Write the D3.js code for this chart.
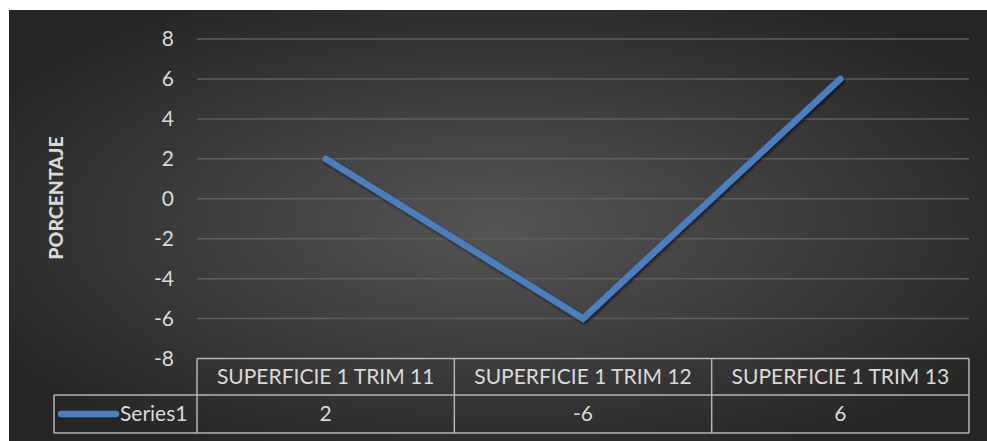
<!DOCTYPE html>
<html><head><meta charset="utf-8">
<script src="https://cdn.jsdelivr.net/npm/d3@7"></script>
<style>body{margin:0;background:#fff}svg{display:block}</style>
</head><body><svg id="c" width="987" height="441"></svg>
<script>
const categories = ["SUPERFICIE 1 TRIM 11", "SUPERFICIE 1 TRIM 12", "SUPERFICIE 1 TRIM 13"];
const seriesName = "Series1";
const values = [2, -6, 6];
const yTicks = [-8, -6, -4, -2, 0, 2, 4, 6, 8];
const yTitle = "PORCENTAJE";

const svg = d3.select("#c");
const W = 987, H = 441;
const FONT = "Lato, 'Open Sans', sans-serif";
const defs = svg.append("defs");
const rg = defs.append("radialGradient").attr("id","bg")
  .attr("cx","50%").attr("cy","50%").attr("r","60%");
rg.append("stop").attr("offset","0%").attr("stop-color","#555555");
rg.append("stop").attr("offset","100%").attr("stop-color","#262626");
const f = defs.append("filter").attr("id","sh").attr("x","-10%").attr("y","-10%").attr("width","120%").attr("height","120%");
f.append("feDropShadow").attr("dx",1.5).attr("dy",2).attr("stdDeviation",1.5).attr("flood-color","#000").attr("flood-opacity",0.6);

svg.append("rect").attr("x",9).attr("y",10).attr("width",W-9).attr("height",H-10).attr("fill","url(#bg)");

const plotL = 197, plotR = 969, plotT = 39, plotB = 358.5;
const x = d3.scaleBand().domain(categories).range([plotL, plotR]).padding(0);
const y = d3.scaleLinear().domain([d3.min(yTicks), d3.max(yTicks)]).range([plotB, plotT]);

// gridlines
svg.append("g").selectAll("line").data(yTicks.filter(t => t !== d3.min(yTicks))).join("line")
  .attr("x1", plotL).attr("x2", plotR)
  .attr("y1", d => y(d)).attr("y2", d => y(d))
  .attr("stroke", "#5e5e5e").attr("stroke-width", 1.5);

// y axis labels
const yAxis = d3.axisLeft(y).tickValues(yTicks).tickSize(0).tickPadding(0).tickFormat(d => String(d));
const ya = svg.append("g").attr("transform", `translate(174,0)`).call(yAxis);
ya.select(".domain").remove();
ya.selectAll("text").attr("fill","#d9d9d9").style("font-family",FONT).style("font-size","21px");

// y title
svg.append("text").attr("transform","translate(63,198) rotate(-90)")
  .attr("text-anchor","middle").attr("fill","#d9d9d9")
  .style("font-family",FONT).style("font-size","19.5px").style("font-weight","900")
  .text(yTitle);

// line
const line = d3.line().x((d,i) => x(categories[i]) + x.bandwidth()/2).y(d => y(d));
svg.append("path").datum(values).attr("d", line)
  .attr("fill","none").attr("stroke","#4a7fc0").attr("stroke-width",6.5)
  .attr("stroke-linecap","round").attr("stroke-linejoin","miter").attr("filter","url(#sh)");

// data table
const r1T = plotB, r1B = 395, r2B = 433, legL = 54;
const tb = svg.append("g").attr("fill","none").attr("stroke","#b4b4b4").attr("stroke-width",1.5);
tb.append("line").attr("x1",plotL).attr("x2",plotR).attr("y1",r1T).attr("y2",r1T);
tb.append("line").attr("x1",legL).attr("x2",plotR).attr("y1",r1B).attr("y2",r1B);
tb.append("line").attr("x1",legL).attr("x2",plotR).attr("y1",r2B).attr("y2",r2B);
tb.append("line").attr("x1",legL).attr("x2",legL).attr("y1",r1B).attr("y2",r2B);
const edges = categories.map(c => x(c)).concat([plotR]);
tb.selectAll(".v").data(edges).join("line").attr("class","v")
  .attr("x1",d=>d).attr("x2",d=>d).attr("y1",r1T).attr("y2",r2B);

svg.append("g").selectAll("text").data(categories).join("text")
  .attr("x", d => x(d) + x.bandwidth()/2).attr("y", (r1T+r1B)/2).attr("dy","0.35em")
  .attr("text-anchor","middle").attr("fill","#d9d9d9")
  .style("font-family",FONT).style("font-size","21px").text(d => d);
svg.append("g").selectAll("text").data(values).join("text")
  .attr("x", (d,i) => x(categories[i]) + x.bandwidth()/2).attr("y", (r1B+r2B)/2).attr("dy","0.35em")
  .attr("text-anchor","middle").attr("fill","#d9d9d9")
  .style("font-family",FONT).style("font-size","21px").text(d => String(d));

// legend key
svg.append("line").attr("x1",61).attr("x2",116).attr("y1",(r1B+r2B)/2).attr("y2",(r1B+r2B)/2)
  .attr("stroke","#4a7fc0").attr("stroke-width",6.5).attr("stroke-linecap","round");
svg.append("text").attr("x",120).attr("y",(r1B+r2B)/2).attr("dy","0.35em")
  .attr("fill","#d9d9d9").style("font-family",FONT).style("font-size","21px").text(seriesName);
</script></body></html>
